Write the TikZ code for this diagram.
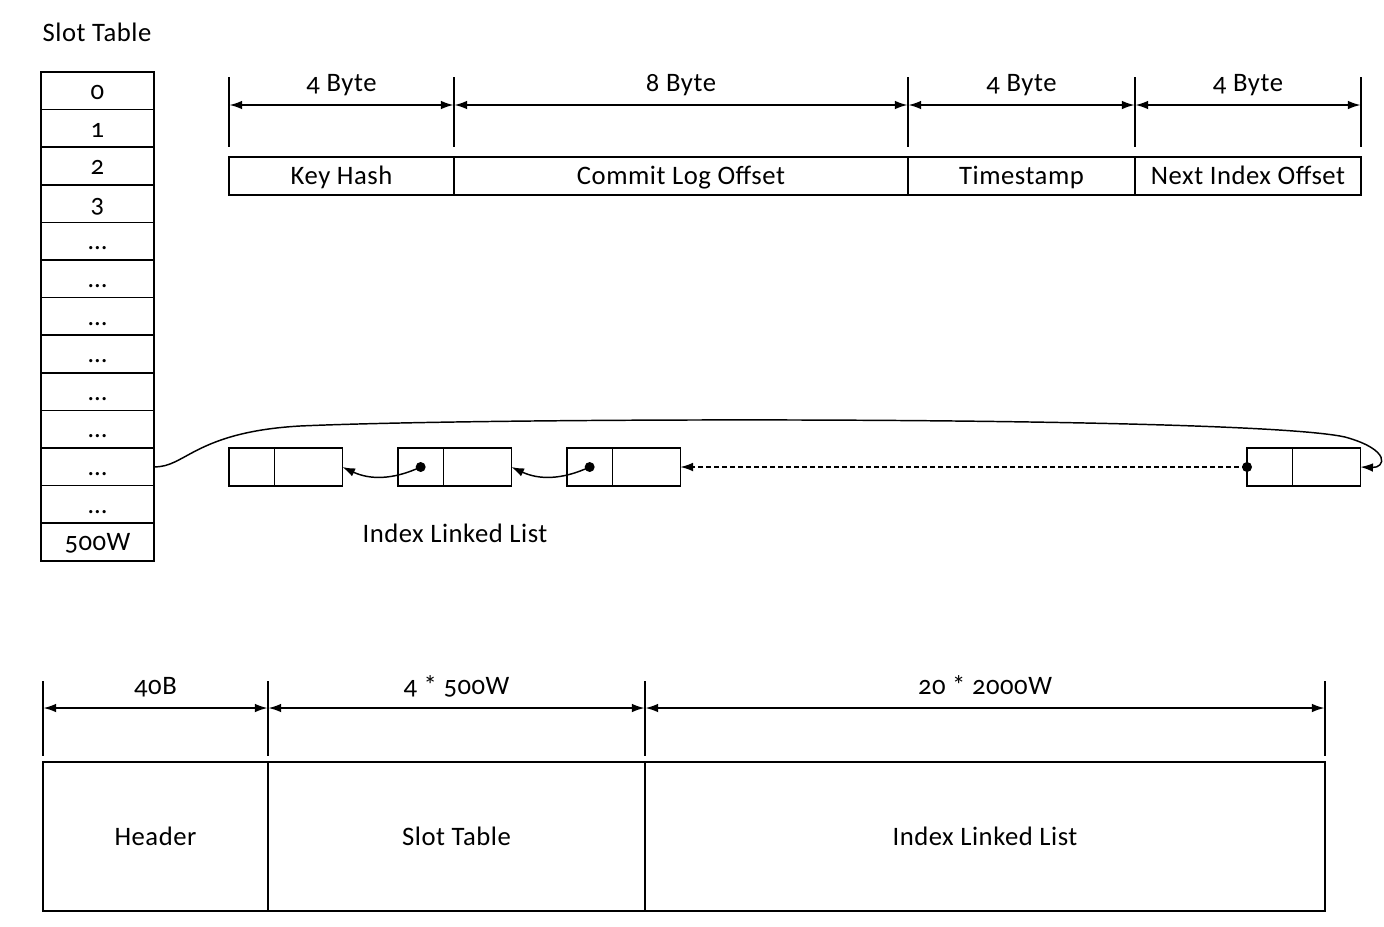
\documentclass[tikz,border=0pt]{standalone}
\usepackage{fontspec}
\setmainfont{Carlito}[Numbers=OldStyle, LetterSpace=2]
\usetikzlibrary{arrows.meta,positioning}

\begin{document}
\begin{tikzpicture}[x=0.75pt, y=-0.75pt, line width=1.1pt,
	every node/.style={font=\fontsize{20}{23}\selectfont, inner sep=0pt, outer sep=0pt, text height=15pt, text depth=2pt},
	>={Latex[length=9.5pt, width=6.5pt]},
	slot/.style={draw, minimum width=84.75pt, minimum height=28.2pt},
	field/.style={draw, minimum height=28.5pt},
	ptr/.style={draw, minimum width=34pt, minimum height=28.5pt},
	val/.style={draw, minimum width=51pt, minimum height=28.5pt},
	part/.style={draw, minimum height=111.75pt},
	dim/.style={<->, shorten <=0.4pt, shorten >=0.4pt}]
	\useasboundingbox (0,0) rectangle (1384,926);

	% slot table
	\node (title) at (97,33) {Slot Table};
	\foreach \t [count=\i from 0] in {0,1,2,3,\ldots,\ldots,\ldots,\ldots,\ldots,\ldots,\ldots,\ldots,500W}
		\node[slot] (s\i) at (97.5,{72+37.6*(\i+0.5)}) {\t};

	% index record layout
	\node[field, minimum width=168.75pt, anchor=west] (kh) at (229,176) {Key Hash};
	\node[field, minimum width=340.5pt, right=0pt of kh] (clo) {Commit Log Offset};
	\node[field, minimum width=170.25pt, right=0pt of clo] (ts) {Timestamp};
	\node[field, minimum width=169.5pt, right=0pt of ts] (nio) {Next Index Offset};
	\foreach \p in {kh.west, clo.west, ts.west, nio.west, nio.east}
		\draw (\p |- 0,77) -- (\p |- 0,147);
	\foreach \a/\b/\t in {kh.west/kh.east/4 Byte, clo.west/clo.east/8 Byte, ts.west/ts.east/4 Byte, nio.west/nio.east/4 Byte}
		\draw[dim] (\a |- 0,105) -- (\b |- 0,105) node[midway, above=8.5pt] {\t};

	% index linked list
	\node[ptr, anchor=west] (n1a) at (229,467) {};
	\node[val, right=0pt of n1a] (n1b) {};
	\node[ptr, anchor=west] (n2a) at (398,467) {};
	\node[val, right=0pt of n2a] (n2b) {};
	\node[ptr, anchor=west] (n3a) at (567,467) {};
	\node[val, right=0pt of n3a] (n3b) {};
	\node[ptr, anchor=west] (n4a) at (1247,467) {};
	\node[val, right=0pt of n4a] (n4b) {};
	\node (ill) at (455,534) {Index Linked List};

	\fill (n2a.center) circle (5);
	\fill (n3a.center) circle (5);
	\fill (n4a.west) circle (5);
	\draw[->] (n2a.center) to[bend left=25] (n1b.east);
	\draw[->] (n3a.center) to[bend left=25] (n2b.east);
	\draw[->, dash pattern=on 4pt off 2pt] (n4a.west) -- (n3b.east);
	\draw[->] (s10.east) .. controls (185,468) and (195,432) .. (300,426)
		.. controls (500,417) and (1250,416) .. (1345,437)
		.. controls (1392,450) and (1385,468) .. (n4b.east);

	% file layout
	\node[part, minimum width=168.75pt, anchor=north west] (hdr) at (43,762) {Header};
	\node[part, minimum width=282.75pt, right=0pt of hdr] (st) {Slot Table};
	\node[part, minimum width=510pt, right=0pt of st] (il) {Index Linked List};
	\foreach \p in {hdr.west, st.west, il.west, il.east}
		\draw (\p |- 0,681) -- (\p |- 0,756);
	\foreach \a/\b/\t in {hdr.west/hdr.east/40B, st.west/st.east/4 * 500W, il.west/il.east/20 * 2000W}
		\draw[dim] (\a |- 0,708) -- (\b |- 0,708) node[midway, above=8.5pt] {\t};
\end{tikzpicture}
\end{document}
